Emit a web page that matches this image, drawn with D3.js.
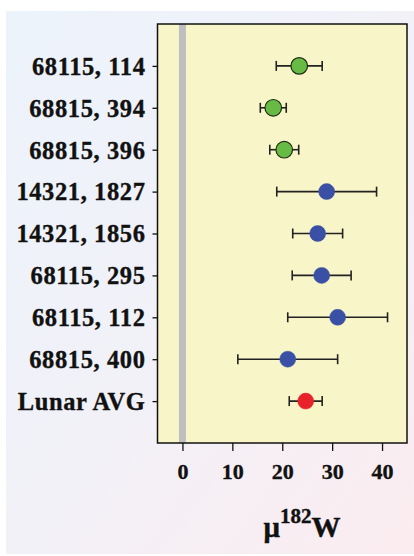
<!DOCTYPE html>
<html>
<head>
<meta charset="utf-8">
<script src="https://cdn.jsdelivr.net/npm/d3@7"></script>
<style>
  body { margin: 0; background: #fff; }
  svg { display: block; }
</style>
</head>
<body>
<script>
// samples, top to bottom
const samples = ["68115, 114", "68815, 394", "68815, 396", "14321, 1827", "14321, 1856",
                 "68115, 295", "68115, 112", "68815, 400", "Lunar AVG"];
const means  = [23.4, 18.2, 20.4, 28.9, 27.1, 27.9, 31.1, 21.1, 24.7];
const errors = [4.6, 2.6, 2.9, 10.0, 5.0, 5.9, 10.0, 10.0, 3.3];
const groups = ["g", "g", "g", "b", "b", "b", "b", "b", "r"];
const xTicks = [0, 10, 20, 30, 40];

const W = 414, H = 556;
const box = { left: 157.5, right: 407, top: 24, bottom: 443 };
const serif = "'Liberation Serif', 'Times New Roman', serif";

const fills = { g: "#67bb45", b: "#3a50a4", r: "#e8222a" };
const strokes = { g: "#1e2a12", b: "#3a50a4", r: "#e8222a" };

const svg = d3.select("body").append("svg")
    .attr("width", W)
    .attr("height", H);

const defs = svg.append("defs");
const grad = defs.append("linearGradient")
    .attr("id", "bg")
    .attr("x1", "0").attr("y1", "0")
    .attr("x2", "1").attr("y2", "1");
grad.append("stop").attr("offset", "0").attr("stop-color", "#ecf3fb");
grad.append("stop").attr("offset", "0.5").attr("stop-color", "#f2f1f8");
grad.append("stop").attr("offset", "1").attr("stop-color", "#fbecef");

svg.append("rect")
    .attr("x", 6).attr("y", 11)
    .attr("width", W - 6).attr("height", 543)
    .attr("fill", "url(#bg)");

const x = d3.scaleLinear().domain([-5, 45]).range([box.left, box.right]);
const y = d3.scalePoint().domain(samples).range([box.top, box.bottom]).padding(1);

// plot panel
svg.append("rect")
    .attr("x", box.left).attr("y", box.top)
    .attr("width", box.right - box.left).attr("height", box.bottom - box.top)
    .attr("fill", "#f8f5c9");

// zero line
svg.append("rect")
    .attr("x", x(0) - 3.5).attr("y", box.top)
    .attr("width", 7).attr("height", box.bottom - box.top)
    .attr("fill", "#bfbfbf");

svg.append("rect")
    .attr("x", box.left).attr("y", box.top)
    .attr("width", box.right - box.left).attr("height", box.bottom - box.top)
    .attr("fill", "none")
    .attr("stroke", "#111")
    .attr("stroke-width", 1.5);

// y axis
const yAxis = svg.append("g")
    .attr("transform", `translate(${box.left},0)`)
    .call(d3.axisLeft(y).tickSize(5).tickPadding(7));
yAxis.select(".domain").remove();
yAxis.selectAll("line").attr("stroke", "#111").attr("stroke-width", 1.3);
yAxis.selectAll("text")
    .attr("fill", "#111")
    .attr("stroke", "#111")
    .attr("stroke-width", 0.35)
    .style("font-family", serif)
    .style("font-weight", "bold")
    .style("font-size", "24.5px")
    .style("letter-spacing", "0.6px")
    .attr("dy", "0.34em");

// x axis
const xAxis = svg.append("g")
    .attr("transform", `translate(0,${box.bottom})`)
    .call(d3.axisBottom(x).tickValues(xTicks).tickSize(8).tickPadding(17));
xAxis.select(".domain").remove();
xAxis.selectAll("line").attr("stroke", "#111").attr("stroke-width", 1.3);
xAxis.selectAll("text")
    .attr("fill", "#111")
    .attr("stroke", "#111")
    .attr("stroke-width", 0.35)
    .attr("dy", "0.5em")
    .style("font-family", serif)
    .style("font-weight", "bold")
    .style("font-size", "22px");

// axis title
const title = svg.append("text")
    .attr("x", 302).attr("y", 537)
    .attr("text-anchor", "middle")
    .attr("fill", "#111")
    .attr("stroke", "#111")
    .attr("stroke-width", 0.4)
    .style("font-family", serif)
    .style("font-weight", "bold")
    .style("font-size", "29px");
title.append("tspan").text("μ");
title.append("tspan").attr("dy", -14).style("font-size", "21px").text("182");
title.append("tspan").attr("dy", 14).text("W");

// error bars and points
const rows = samples.map((s, i) => ({ s, m: means[i], e: errors[i], g: groups[i] }));

const bars = svg.append("g").selectAll("g")
    .data(rows)
    .join("g")
    .attr("stroke", "#222")
    .attr("stroke-width", 1.6);
bars.append("line")
    .attr("x1", d => x(d.m - d.e)).attr("x2", d => x(d.m + d.e))
    .attr("y1", d => y(d.s)).attr("y2", d => y(d.s));
bars.append("line")
    .attr("x1", d => x(d.m - d.e)).attr("x2", d => x(d.m - d.e))
    .attr("y1", d => y(d.s) - 5).attr("y2", d => y(d.s) + 5);
bars.append("line")
    .attr("x1", d => x(d.m + d.e)).attr("x2", d => x(d.m + d.e))
    .attr("y1", d => y(d.s) - 5).attr("y2", d => y(d.s) + 5);

svg.append("g").selectAll("circle")
    .data(rows)
    .join("circle")
    .attr("cx", d => x(d.m))
    .attr("cy", d => y(d.s))
    .attr("r", d => d.g === "g" ? 8.3 : 8)
    .attr("fill", d => fills[d.g])
    .attr("stroke", d => strokes[d.g])
    .attr("stroke-width", d => d.g === "g" ? 1.2 : 0.5);
</script>
</body>
</html>
